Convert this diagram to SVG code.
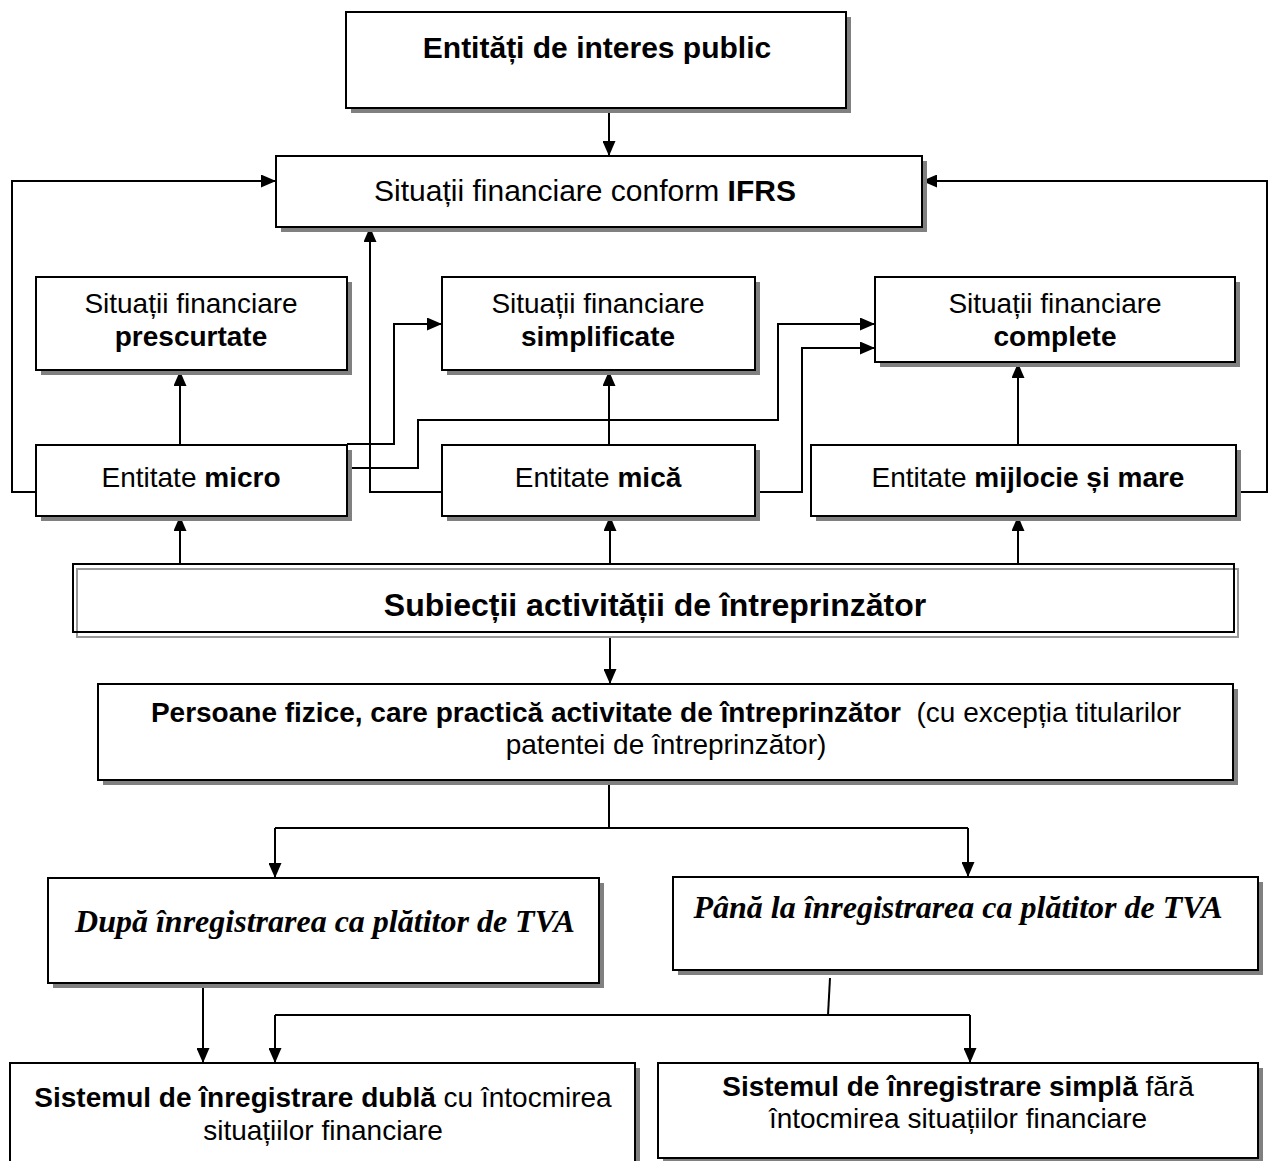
<svg xmlns="http://www.w3.org/2000/svg" width="1269" height="1161" viewBox="0 0 1269 1161">
<defs>
<marker id="ah" viewBox="0 0 15 13" refX="15" refY="6.5" markerWidth="15" markerHeight="13" markerUnits="userSpaceOnUse" orient="auto">
<path d="M0,0 L15,6.5 L0,13 Z" fill="#000"/>
</marker>
</defs>
<style>
.sh{fill:#808080;stroke:none}
.bx{fill:#fff;stroke:#000;stroke-width:2}
.t{font-family:"Liberation Sans",Arial,sans-serif;font-size:28px;fill:#000;text-anchor:middle}
.b{font-weight:bold}
.big{font-size:30px}
.huge{font-size:32px}
.ti{font-family:"Liberation Serif","Times New Roman",serif;font-size:32px;font-weight:bold;font-style:italic;fill:#000;text-anchor:middle}
.c{fill:none;stroke:#000;stroke-width:2}
.ca{fill:none;stroke:#000;stroke-width:2;marker-end:url(#ah)}
</style>
<rect width="1269" height="1161" fill="#fff"/>

<g id="connectors">
<path class="ca" d="M609,108 V156"/>
<path class="ca" d="M36,492 H12 V181 H276"/>
<path class="ca" d="M1236,492 H1267 V181 H922"/>
<path class="ca" d="M442,492 H370 V227"/>
<path class="ca" d="M180,445 V371"/>
<path class="ca" d="M347,444 H394 V324 H442"/>
<path class="ca" d="M347,468 H418 V420 H778 V324 H875"/>
<path class="ca" d="M755,492 H802 V348 H875"/>
<path class="ca" d="M609,445 V371"/>
<path class="ca" d="M1018,445 V363"/>
<path class="ca" d="M180,564 V516"/>
<path class="ca" d="M610,564 V516"/>
<path class="ca" d="M1018,564 V516"/>
<path class="ca" d="M610,637 V684"/>
<path class="c" d="M609,780 V828"/>
<path class="c" d="M275,828 H968"/>
<path class="ca" d="M275,828 V878"/>
<path class="ca" d="M968,828 V877"/>
<path class="ca" d="M203,972 V1063"/>
<path class="c" d="M830,978 L828,1015"/>
<path class="c" d="M275,1015 H970"/>
<path class="ca" d="M275,1015 V1063"/>
<path class="ca" d="M970,1015 V1063"/>
</g>

<g id="n-interes">
<rect class="sh" x="351" y="17" width="500" height="96"/>
<rect class="bx" x="346" y="12" width="500" height="96"/>
<text class="t b big" x="597" y="58">Entități de interes public</text>
</g>

<g id="n-ifrs">
<rect class="sh" x="281" y="161" width="646" height="71"/>
<rect class="bx" x="276" y="156" width="646" height="71"/>
<text class="t big" x="585" y="201">Situații financiare conform <tspan class="b">IFRS</tspan></text>
</g>

<g id="n-prescurtate">
<rect class="sh" x="41" y="282" width="311" height="93"/>
<rect class="bx" x="36" y="277" width="311" height="93"/>
<text class="t" x="191" y="313">Situații financiare</text>
<text class="t b" x="191" y="346">prescurtate</text>
</g>

<g id="n-simplificate">
<rect class="sh" x="447" y="282" width="313" height="93"/>
<rect class="bx" x="442" y="277" width="313" height="93"/>
<text class="t" x="598" y="313">Situații financiare</text>
<text class="t b" x="598" y="346">simplificate</text>
</g>

<g id="n-complete">
<rect class="sh" x="880" y="282" width="360" height="85"/>
<rect class="bx" x="875" y="277" width="360" height="85"/>
<text class="t" x="1055" y="313">Situații financiare</text>
<text class="t b" x="1055" y="346">complete</text>
</g>

<g id="n-micro">
<rect class="sh" x="41" y="450" width="311" height="71"/>
<rect class="bx" x="36" y="445" width="311" height="71"/>
<text class="t" x="191" y="487">Entitate <tspan class="b">micro</tspan></text>
</g>

<g id="n-mica">
<rect class="sh" x="447" y="450" width="313" height="71"/>
<rect class="bx" x="442" y="445" width="313" height="71"/>
<text class="t" x="598" y="487">Entitate <tspan class="b">mică</tspan></text>
</g>

<g id="n-mijlocie">
<rect class="sh" x="816" y="450" width="425" height="71"/>
<rect class="bx" x="811" y="445" width="425" height="71"/>
<text class="t" x="1028" y="487">Entitate <tspan class="b">mijlocie și mare</tspan></text>
</g>

<g id="n-subiectii">
<rect x="73" y="564" width="1161" height="68" fill="#fff"/>
<rect x="77" y="569" width="1161" height="68" fill="none" stroke="#999" stroke-width="2"/>
<rect x="73" y="564" width="1161" height="68" fill="none" stroke="#000" stroke-width="2"/>
<text class="t b huge" x="655" y="616">Subiecții activității de întreprinzător</text>
</g>

<g id="n-persoane">
<rect class="sh" x="103" y="689" width="1135" height="96"/>
<rect class="bx" x="98" y="684" width="1135" height="96"/>
<text class="t" x="666" y="722" xml:space="preserve"><tspan class="b">Persoane fizice, care practică activitate de întreprinzător</tspan>  (cu excepția titularilor</text>
<text class="t" x="666" y="754">patentei de întreprinzător)</text>
</g>

<g id="n-dupa">
<rect class="sh" x="53" y="883" width="551" height="105"/>
<rect class="bx" x="48" y="878" width="551" height="105"/>
<text class="ti" x="325" y="932">După înregistrarea ca plătitor de TVA</text>
</g>

<g id="n-pana">
<rect class="sh" x="678" y="882" width="585" height="93"/>
<rect class="bx" x="673" y="877" width="585" height="93"/>
<text class="ti" x="958" y="918">Până la înregistrarea ca plătitor de TVA</text>
</g>

<g id="n-dubla">
<rect class="sh" x="15" y="1068" width="625" height="110"/>
<rect class="bx" x="10" y="1063" width="625" height="110"/>
<text class="t" x="323" y="1107"><tspan class="b">Sistemul de înregistrare dublă</tspan> cu întocmirea</text>
<text class="t" x="323" y="1140">situațiilor financiare</text>
</g>

<g id="n-simpla">
<rect class="sh" x="663" y="1068" width="600" height="95"/>
<rect class="bx" x="658" y="1063" width="600" height="95"/>
<text class="t" x="958" y="1096"><tspan class="b">Sistemul de înregistrare simplă</tspan> fără</text>
<text class="t" x="958" y="1128">întocmirea situațiilor financiare</text>
</g>
</svg>
